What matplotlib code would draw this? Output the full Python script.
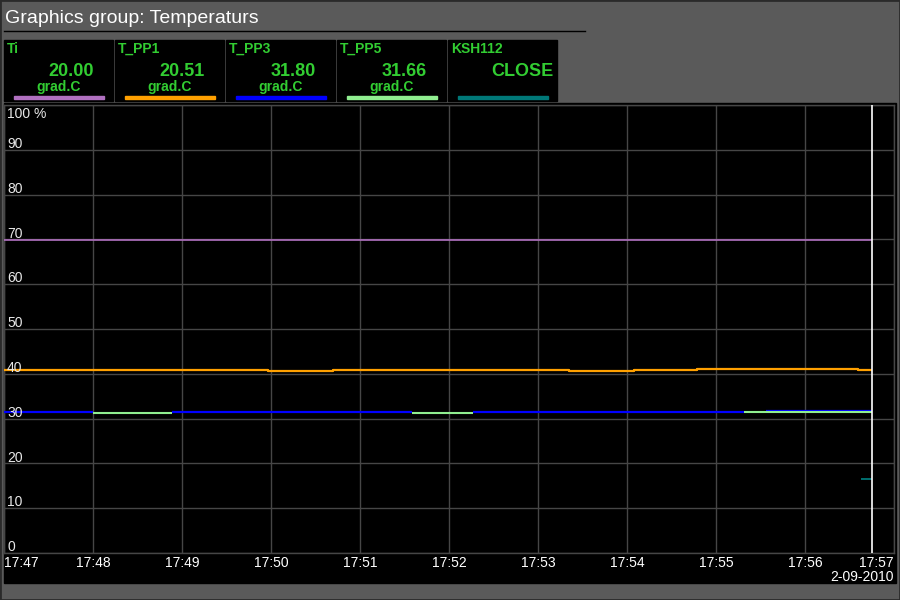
import matplotlib
matplotlib.use("Agg")
import matplotlib.pyplot as plt
import matplotlib.transforms as mtransforms
from matplotlib.patches import Rectangle
from matplotlib.lines import Line2D
import numpy as np

# ---------------- data ----------------
title = "Graphics group: Temperaturs"
legend_names = ["Ti", "T_PP1", "T_PP3", "T_PP5", "KSH112"]
legend_values = ["20.00", "20.51", "31.80", "31.66", "CLOSE"]
legend_units = ["grad.C", "grad.C", "grad.C", "grad.C", ""]
series_colors = ["#b070c0", "#ffa000", "#0000ff", "#90ee90", "#007878"]

x_tick_labels = ["17:47", "17:48", "17:49", "17:50", "17:51", "17:52",
                 "17:53", "17:54", "17:55", "17:56", "17:57"]
y_ticks = [0, 10, 20, 30, 40, 50, 60, 70, 80, 90, 100]
y_tick_labels = ["0", "10", "20", "30", "40", "50", "60", "70", "80", "90", "100 %"]
date_label = "2-09-2010"
cursor_time = "17:56:45"

ti_times = ["17:47:00", "17:56:45"]
ti_values = [69.8, 69.8]

pp1_times = ["17:47:00", "17:49:58", "17:50:42", "17:53:21", "17:54:05",
             "17:54:47", "17:56:36", "17:56:45"]
pp1_values = [40.8, 40.55, 40.8, 40.55, 40.8, 41.0, 40.8, 40.8]

pp3_times = ["17:47:00", "17:48:00", "17:48:53", "17:51:35", "17:52:16",
             "17:55:19", "17:55:34", "17:56:45"]
pp3_values = [31.45, np.nan, 31.45, np.nan, 31.45, np.nan, 31.65, 31.65]

pp5_times = ["17:47:00", "17:48:00", "17:48:53", "17:51:35", "17:52:16",
             "17:55:19", "17:56:45"]
pp5_values = [np.nan, 31.35, np.nan, 31.35, np.nan, 31.45, 31.45]

ksh_times = ["17:56:38", "17:56:45"]
ksh_values = [16.5, 16.5]


def to_min(t):
    h, m, s = (int(p) for p in t.split(":"))
    return (h * 60 + m + s / 60.0) - (17 * 60 + 47)


# ---------------- figure ----------------
W, H = 900, 600
BG = "#5a5a5a"
GRID = "#464646"
GREEN = "#32cd32"
fig = plt.figure(figsize=(W / 100, H / 100), dpi=100, facecolor=BG)


def fx(px):
    return px / W


def fy(py):
    return 1 - py / H


# outer frame
fig.patches.append(Rectangle((0, 0), 1, 1, transform=fig.transFigure,
                             facecolor="none", edgecolor="#2a2a2a", lw=2,
                             zorder=-2))

# title and underline
fig.text(fx(5), fy(23), title, color="white", fontsize=14,
         family="Liberation Sans", va="baseline", ha="left")
fig.lines.append(Line2D([fx(4), fx(585)], [fy(30.5), fy(30.5)],
                        transform=fig.transFigure, color="black", lw=1))

# legend boxes
for i, (nm, val, unit, col) in enumerate(zip(legend_names, legend_values,
                                              legend_units, series_colors)):
    bx = 4 + i * 111
    fig.patches.append(Rectangle((fx(bx), fy(101)), 109 / W, 61 / H,
                                 transform=fig.transFigure, color="black",
                                 zorder=-1))
    fig.text(fx(bx + 3), fy(53), nm, color=GREEN, fontsize=10, weight="bold",
             family="Liberation Sans", va="baseline", ha="left")
    if unit:
        fig.text(fx(bx + 90), fy(76), val, color=GREEN, fontsize=13,
                 weight="bold", family="Liberation Sans", va="baseline",
                 ha="right")
        fig.text(fx(bx + 55), fy(91.5), unit, color=GREEN, fontsize=10,
                 weight="bold", family="Liberation Sans", va="baseline",
                 ha="center")
    else:
        fig.text(fx(bx + 106), fy(76), val, color=GREEN, fontsize=13,
                 weight="bold", family="Liberation Sans", va="baseline",
                 ha="right")
    fig.patches.append(Rectangle((fx(bx + 10), fy(99)), 90 / W, 3 / H,
                                 transform=fig.transFigure, color=col))

# black chart panel (behind the axes)
fig.patches.append(Rectangle((fx(4), fy(583)), 892 / W, 480 / H,
                             transform=fig.transFigure, color="black",
                             zorder=-1))

# data axes
ax = fig.add_axes([fx(4), fy(553), 890 / W, 448 / H])
ax.set_facecolor("black")
ax.set_xlim(0, 10)
ax.set_ylim(0, 100)
ax.set_xticks(range(len(x_tick_labels)))
ax.set_yticks(y_ticks)
ax.tick_params(length=0, labelbottom=False, labelleft=False)
ax.grid(True, color=GRID, lw=1)
ax.set_axisbelow(True)
for sp in ax.spines.values():
    sp.set_color(GRID)
    sp.set_linewidth(1)


def draw(times, values, color, lw, z):
    ax.plot([to_min(t) for t in times], values, color=color, lw=lw,
            drawstyle="steps-post", zorder=z, solid_capstyle="butt")


draw(ti_times, ti_values, series_colors[0], 1.2, 3)
draw(pp1_times, pp1_values, series_colors[1], 1.6, 3)
draw(pp3_times, pp3_values, series_colors[2], 1.6, 3)
draw(pp5_times, pp5_values, series_colors[3], 1.5, 4)
draw(ksh_times, ksh_values, series_colors[4], 1.3, 4)

ax.axvline(to_min(cursor_time), color="white", lw=1.2, zorder=5)

# y labels inside the plot
for v, lab in zip(y_ticks, y_tick_labels):
    if v == 100:
        tr = mtransforms.offset_copy(ax.transData, fig, x=3, y=-13, units="dots")
    else:
        tr = mtransforms.offset_copy(ax.transData, fig, x=3, y=1.8, units="dots")
    ax.text(0, v, lab, transform=tr, color="#e8e8e8", fontsize=10,
            family="Liberation Sans", ha="left", va="baseline", zorder=6)

# x labels below
btr = mtransforms.blended_transform_factory(ax.transData, fig.transFigure)
n = len(x_tick_labels)
for i, lab in enumerate(x_tick_labels):
    ha = "left" if i == 0 else ("right" if i == n - 1 else "center")
    ax.text(i, fy(567), lab, transform=btr, color="white", fontsize=10,
            family="Liberation Sans", ha=ha, va="baseline", clip_on=False)
ax.text(n - 1, fy(581), date_label, transform=btr, color="white", fontsize=10,
        family="Liberation Sans", ha="right", va="baseline", clip_on=False)

fig.savefig("out.png", dpi=100, facecolor=BG)
